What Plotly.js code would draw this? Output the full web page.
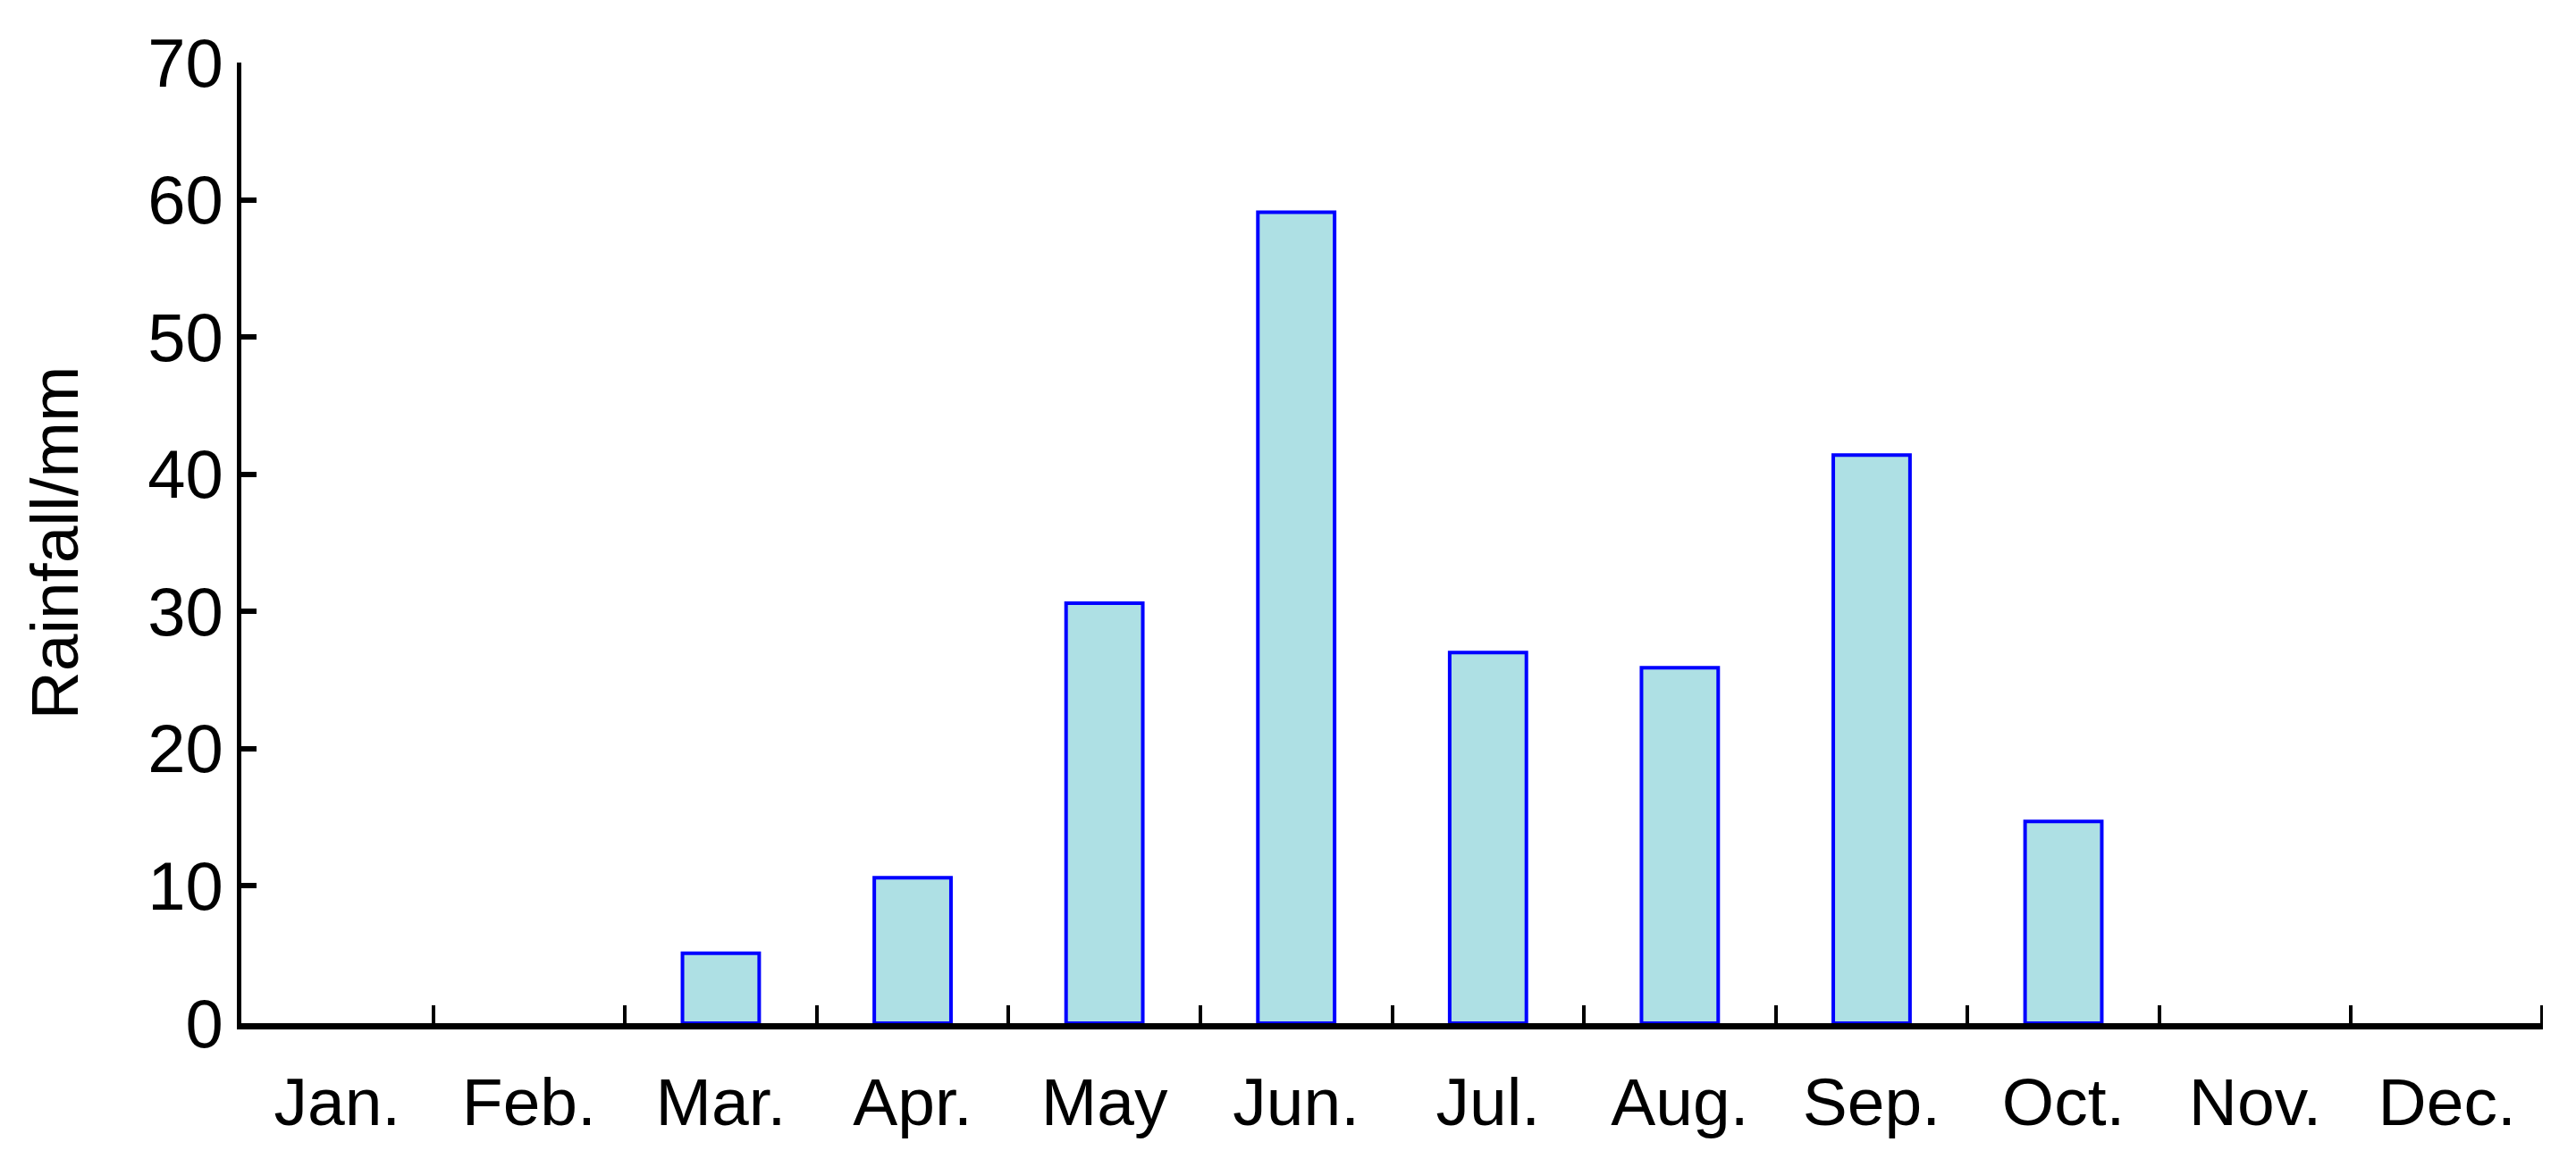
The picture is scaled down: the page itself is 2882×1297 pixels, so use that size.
<!DOCTYPE html>
<html>
<head>
<meta charset="utf-8">
<script src="https://cdn.plot.ly/plotly-3.0.1.min.js"></script>
<style>
  html, body { margin: 0; padding: 0; background: #fff; }
  #chart { width: 2882px; height: 1297px; }
</style>
</head>
<body>
<div id="chart"></div>
<script>
// monthly rainfall (mm)
const months = ['Jan.', 'Feb.', 'Mar.', 'Apr.', 'May', 'Jun.', 'Jul.', 'Aug.', 'Sep.', 'Oct.', 'Nov.', 'Dec.'];
const rainfall = [0, 0, 5.1, 10.6, 30.6, 59.1, 27.0, 25.9, 41.4, 14.7, 0, 0];
const yTicks = [0, 10, 20, 30, 40, 50, 60, 70];

const trace = {
    type: 'bar',
    x: months,
    y: rainfall,
    marker: {
        color: 'rgb(174,224,228)',
        // no outline on empty months, otherwise a flat blue dash shows on the axis
        line: { color: '#0000ff', width: rainfall.map(v => v > 0 ? 4 : 0) }
    },
    hoverinfo: 'x+y'
};

const font = { family: '"Liberation Sans", Arial, sans-serif', color: '#000' };
const plotH = 1297 - 70 - 152;

const layout = {
    width: 2882,
    height: 1297,
    margin: { l: 270, r: 37, t: 70, b: 152 },
    paper_bgcolor: '#fff',
    plot_bgcolor: '#fff',
    showlegend: false,
    bargap: 0.6,
    font: font,
    xaxis: {
        type: 'category',
        range: [-0.5, 11.5],
        showline: true,
        linecolor: '#000',
        linewidth: 7,
        ticks: 'inside',
        tickson: 'boundaries',
        ticklen: 20,
        tickwidth: 4,
        tickcolor: '#000',
        showgrid: false,
        zeroline: false,
        ticklabelstandoff: 17,
        tickfont: Object.assign({ size: 75 }, font)
    },
    yaxis: {
        range: [0, 70],
        tickvals: yTicks,
        ticktext: yTicks.map(String),
        showline: true,
        linecolor: '#000',
        linewidth: 5,
        ticks: 'inside',
        ticklen: 17,
        tickwidth: 6,
        tickcolor: '#000',
        showgrid: false,
        zeroline: false,
        ticklabelstandoff: 0,
        tickfont: Object.assign({ size: 76 }, font),
        title: {
            text: 'Rainfall/mm',
            font: Object.assign({ size: 75 }, font),
            standoff: 55
        }
    },
    // closing tick at the right end of the category axis
    shapes: [{
        type: 'line',
        xref: 'x', yref: 'paper',
        x0: months.length - 0.5, x1: months.length - 0.5,
        y0: 0, y1: 20 / plotH,
        line: { color: '#000', width: 6 }
    }]
};

Plotly.newPlot('chart', [trace], layout, { displayModeBar: false, staticPlot: true });
</script>
</body>
</html>
